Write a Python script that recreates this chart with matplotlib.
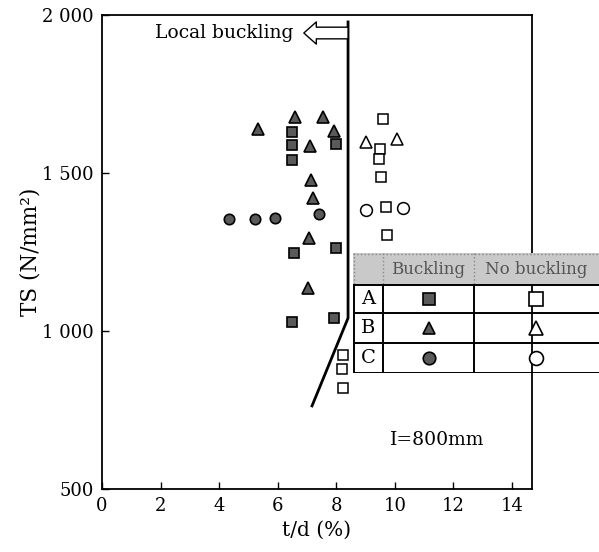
import matplotlib
matplotlib.use("Agg")
import matplotlib.pyplot as plt
from matplotlib.patches import Rectangle

plt.rcParams['font.family'] = ['DejaVu Serif']

# ---- data (t/d %, TS N/mm2) ----
A_buck_x = [6.48, 6.48, 7.99, 6.48, 7.99, 6.54, 6.48, 7.93]
A_buck_y = [1631, 1589, 1593, 1540, 1262, 1247, 1028, 1040]
B_buck_x = [5.31, 6.59, 7.55, 7.93, 7.09, 7.12, 7.21, 7.07, 7.02]
B_buck_y = [1638, 1676, 1678, 1634, 1585, 1478, 1422, 1295, 1135]
C_buck_x = [4.34, 5.23, 5.90, 7.42]
C_buck_y = [1354, 1354, 1359, 1371]
A_nob_x = [9.58, 9.49, 9.47, 9.53, 9.69, 9.74, 8.24, 8.19, 8.23]
A_nob_y = [1671, 1576, 1543, 1487, 1393, 1304, 925, 879, 821]
B_nob_x = [9.00, 10.07]
B_nob_y = [1597, 1609]
C_nob_x = [9.01, 10.27]
C_nob_y = [1382, 1388]
bound_x = [8.40, 8.40, 7.17]
bound_y = [1978, 1041, 763]

x_ticks = [0, 2, 4, 6, 8, 10, 12, 14]
y_ticks = [500, 1000, 1500, 2000]
y_ticklabels = ["500", "1 000", "1 500", "2 000"]
row_labels = ["A", "B", "C"]
col_labels = ["Buckling", "No buckling"]

W, H = 599, 552
fig = plt.figure(figsize=(W/100, H/100), dpi=100)
ax = fig.add_axes([102/W, 1-489/H, (532-102)/W, (489-15)/H])
ax.set_xlim(0, 14.68)
ax.set_ylim(500, 2000)

fill = '#5a5a5a'
ax.plot(A_buck_x, A_buck_y, 's', ms=7, mfc=fill, mec='black', mew=1.2, ls='none')
ax.plot(B_buck_x, B_buck_y, '^', ms=8, mfc=fill, mec='black', mew=1.2, ls='none')
ax.plot(C_buck_x, C_buck_y, 'o', ms=7.5, mfc=fill, mec='black', mew=1.2, ls='none')
ax.plot(A_nob_x, A_nob_y, 's', ms=6.5, mfc='white', mec='black', mew=1.1, ls='none')
ax.plot(B_nob_x, B_nob_y, '^', ms=9, mfc='white', mec='black', mew=1.1, ls='none')
ax.plot(C_nob_x, C_nob_y, 'o', ms=8.5, mfc='white', mec='black', mew=1.1, ls='none')

ax.plot(bound_x, bound_y, color='black', lw=2)

# Local buckling arrow
ya = 1943
ax.annotate('', xy=(6.89, ya), xytext=(8.40, ya),
            arrowprops=dict(arrowstyle='simple,head_length=0.45,head_width=0.8,tail_width=0.42',
                            fc='white', ec='black', lw=1.0, shrinkA=0, shrinkB=0,
                            mutation_scale=20))
ax.text(6.52, ya, 'Local buckling', ha='right', va='center', fontsize=13.5)

ax.text(11.43, 655, 'I=800mm', ha='center', va='center', fontsize=13.5)

ax.set_xticks(x_ticks)
ax.set_xticklabels([str(t) for t in x_ticks])
ax.set_yticks(y_ticks)
ax.set_yticklabels(y_ticklabels)
ax.tick_params(direction='in', length=5, width=1, labelsize=13, pad=6)
for s in ax.spines.values():
    s.set_linewidth(1.3)
ax.set_xlabel('t/d (%)', fontsize=14.5, labelpad=4)
ax.set_ylabel('TS (N/mm²)', fontsize=15.5, labelpad=0)

# ---- legend table (pixel coordinates) ----
L, R, T, B = 353, 599, 253, 373
tab = fig.add_axes([L/W, 1-B/H, (R-L)/W, (B-T)/H])
tab.set_xlim(L, R)
tab.set_ylim(B, T)
tab.set_facecolor('white')
tab.axis('off')
tab.patch.set_visible(True)
rows = [253, 285, 313, 343, 373]
cols = [353, 383, 474, 599]
tab.add_patch(Rectangle((L, rows[0]), R-L, rows[1]-rows[0], fc='#c9c9c9', ec='none'))
tab.plot([L, R], [rows[0]+0.5, rows[0]+0.5], color='#888888', lw=1, ls=':')
for c in cols[1:3]:
    tab.plot([c, c], [rows[0], rows[1]], color='#888888', lw=1, ls=':')
    tab.plot([c, c], [rows[1], rows[4]], color='black', lw=1.4)
tab.plot([L+0.7, L+0.7], [rows[0], rows[1]], color='#888888', lw=1, ls=':')
tab.plot([L+0.7, L+0.7], [rows[1], rows[4]], color='black', lw=1.4)
for r in rows[1:]:
    tab.plot([L, R], [r, r], color='black', lw=1.4)
tab.text((cols[1]+cols[2])/2, (rows[0]+rows[1])/2, col_labels[0], ha='center', va='center',
         fontsize=12, color='#555555')
tab.text((cols[2]+cols[3])/2, (rows[0]+rows[1])/2, col_labels[1], ha='center', va='center',
         fontsize=12, color='#555555')
mk = ['s', '^', 'o']
for i, lab in enumerate(row_labels):
    yc = (rows[i+1]+rows[i+2])/2
    tab.text((cols[0]+cols[1])/2, yc, lab, ha='center', va='center', fontsize=14)
    tab.plot([(cols[1]+cols[2])/2], [yc], mk[i], ms=9, mfc=fill, mec='black', mew=1.2)
    tab.plot([(cols[2]+cols[3])/2 - 1], [yc], mk[i], ms=10, mfc='white', mec='black', mew=1.2)

fig.savefig('out.png', dpi=100)
